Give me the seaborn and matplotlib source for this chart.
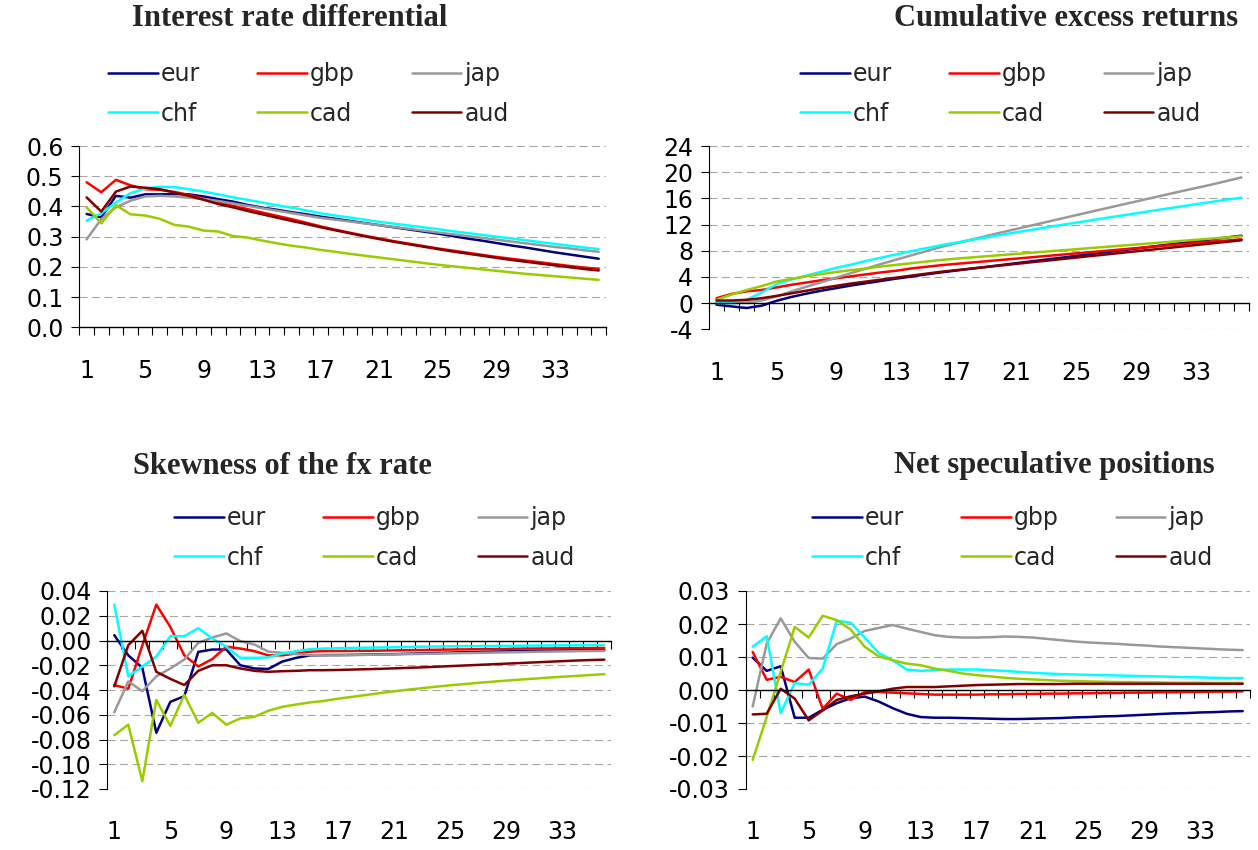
import numpy as np
import pandas as pd
import matplotlib
matplotlib.use("Agg")
import matplotlib.pyplot as plt
from matplotlib.ticker import FixedLocator, FormatStrFormatter
import seaborn as sns

W, H = 1258, 850

periods = list(range(1, 37))
currencies = ["eur", "gbp", "jap", "chf", "cad", "aud"]
colors = {"eur": "#000080", "gbp": "#ff0000", "jap": "#999999",
          "chf": "#00ffff", "cad": "#99cc00", "aud": "#800000"}
xtick_labels = [1, 5, 9, 13, 17, 21, 25, 29, 33]

# Interest rate differential
ird_eur = [0.375, 0.364, 0.435, 0.429, 0.440, 0.440, 0.441, 0.440, 0.433, 0.424, 0.416, 0.405,
           0.396, 0.389, 0.381, 0.374, 0.366, 0.359, 0.352, 0.345, 0.338, 0.331, 0.324, 0.317,
           0.310, 0.302, 0.294, 0.287, 0.279, 0.271, 0.264, 0.256, 0.248, 0.241, 0.234, 0.227]
ird_gbp = [0.480, 0.447, 0.488, 0.470, 0.457, 0.455, 0.448, 0.438, 0.426, 0.414, 0.402, 0.391,
           0.380, 0.369, 0.358, 0.346, 0.334, 0.323, 0.313, 0.303, 0.294, 0.285, 0.277, 0.269,
           0.261, 0.254, 0.247, 0.240, 0.233, 0.227, 0.221, 0.215, 0.209, 0.203, 0.198, 0.193]
ird_jap = [0.291, 0.358, 0.397, 0.419, 0.433, 0.435, 0.433, 0.429, 0.424, 0.418, 0.410, 0.402,
           0.394, 0.386, 0.378, 0.370, 0.362, 0.356, 0.350, 0.344, 0.338, 0.332, 0.326, 0.320,
           0.314, 0.308, 0.302, 0.296, 0.290, 0.284, 0.278, 0.272, 0.266, 0.261, 0.255, 0.250]
ird_chf = [0.353, 0.377, 0.413, 0.444, 0.459, 0.465, 0.464, 0.457, 0.449, 0.440, 0.430, 0.422,
           0.413, 0.404, 0.396, 0.387, 0.377, 0.370, 0.363, 0.356, 0.349, 0.343, 0.337, 0.331,
           0.325, 0.318, 0.312, 0.306, 0.300, 0.294, 0.288, 0.282, 0.276, 0.270, 0.264, 0.259]
ird_cad = [0.397, 0.344, 0.404, 0.374, 0.370, 0.359, 0.339, 0.333, 0.320, 0.317, 0.302, 0.297,
           0.287, 0.278, 0.270, 0.264, 0.256, 0.250, 0.243, 0.237, 0.231, 0.225, 0.219, 0.213,
           0.207, 0.202, 0.197, 0.192, 0.187, 0.182, 0.177, 0.173, 0.169, 0.165, 0.161, 0.157]
ird_aud = [0.430, 0.383, 0.449, 0.466, 0.462, 0.457, 0.446, 0.435, 0.422, 0.408, 0.397, 0.385,
           0.374, 0.363, 0.352, 0.342, 0.331, 0.321, 0.311, 0.301, 0.292, 0.283, 0.275, 0.267,
           0.259, 0.251, 0.244, 0.237, 0.230, 0.223, 0.217, 0.211, 0.205, 0.199, 0.193, 0.188]

# Cumulative excess returns
cer_eur = [-0.25, -0.5, -0.75, -0.4, 0.35, 0.95, 1.45, 1.9, 2.3, 2.7, 3.05, 3.4,
           3.75, 4.05, 4.4, 4.7, 4.98, 5.26, 5.54, 5.82, 6.1, 6.38, 6.66, 6.94,
           7.22, 7.5, 7.78, 8.06, 8.34, 8.62, 8.9, 9.18, 9.46, 9.74, 10.02, 10.3]
cer_gbp = [0.75, 1.4, 1.8, 2.0, 2.4, 2.8, 3.15, 3.5, 3.8, 4.1, 4.4, 4.7,
           4.95, 5.3, 5.55, 5.8, 6.0, 6.2, 6.4, 6.6, 6.8, 7.0, 7.2, 7.4,
           7.6, 7.8, 8.0, 8.2, 8.4, 8.6, 8.8, 9.0, 9.2, 9.4, 9.55, 9.75]
cer_jap = [0.0, 0.0, 0.1, 0.4, 1.0, 1.8, 2.5, 3.2, 3.9, 4.6, 5.3, 6.0,
           6.65, 7.3, 7.95, 8.6, 9.15, 9.7, 10.25, 10.8, 11.33, 11.86, 12.39, 12.92,
           13.45, 13.98, 14.5, 15.02, 15.54, 16.06, 16.58, 17.1, 17.6, 18.1, 18.65, 19.2]
cer_chf = [0.1, 0.2, 0.5, 1.6, 2.9, 3.6, 4.2, 4.8, 5.4, 5.9, 6.45, 6.95,
           7.45, 7.95, 8.4, 8.85, 9.25, 9.65, 10.05, 10.44, 10.82, 11.2, 11.57, 11.94,
           12.3, 12.66, 13.02, 13.38, 13.73, 14.08, 14.43, 14.78, 15.12, 15.46, 15.8, 16.1]
cer_cad = [0.5, 1.3, 2.0, 2.6, 3.3, 3.7, 4.1, 4.45, 4.75, 5.05, 5.3, 5.6,
           5.85, 6.1, 6.35, 6.6, 6.8, 6.98, 7.16, 7.34, 7.52, 7.7, 7.88, 8.06,
           8.24, 8.42, 8.6, 8.78, 8.96, 9.14, 9.32, 9.5, 9.68, 9.86, 10.03, 10.2]
cer_aud = [0.4, 0.4, 0.5, 0.75, 1.1, 1.5, 1.9, 2.3, 2.65, 3.0, 3.3, 3.6,
           3.9, 4.2, 4.5, 4.8, 5.04, 5.28, 5.52, 5.76, 6.0, 6.24, 6.48, 6.72,
           6.96, 7.2, 7.44, 7.68, 7.92, 8.16, 8.4, 8.64, 8.88, 9.12, 9.36, 9.6]

# Skewness of the fx rate
skw_eur = [0.0043, -0.012, -0.022, -0.0746, -0.0496, -0.045, -0.0092, -0.0073, -0.0073, -0.020, -0.0226, -0.023,
           -0.017, -0.014, -0.012, -0.0118, -0.0117, -0.0116, -0.0114, -0.0112, -0.011, -0.0107, -0.0104, -0.0101,
           -0.0098, -0.0095, -0.0092, -0.009, -0.0088, -0.0086, -0.0084, -0.0082, -0.008, -0.0078, -0.0077, -0.0076]
skw_gbp = [-0.036, -0.039, -0.004, 0.029, 0.011, -0.012, -0.021, -0.015, -0.005, -0.0065, -0.0086, -0.012,
           -0.012, -0.0105, -0.009, -0.0086, -0.0085, -0.0084, -0.0083, -0.0082, -0.008, -0.0078, -0.0077, -0.0075,
           -0.0073, -0.0072, -0.007, -0.0069, -0.0068, -0.0066, -0.0065, -0.0064, -0.0063, -0.0062, -0.0061, -0.006]
skw_jap = [-0.058, -0.033, -0.041, -0.029, -0.0226, -0.0154, -0.0019, 0.0024, 0.0057, -0.0005, -0.0032, -0.009,
           -0.010, -0.011, -0.0118, -0.012, -0.012, -0.0118, -0.0116, -0.0114, -0.0112, -0.011, -0.0108, -0.0106,
           -0.0104, -0.0102, -0.010, -0.0098, -0.0096, -0.0094, -0.0092, -0.009, -0.0088, -0.0086, -0.0085, -0.0084]
skw_chf = [0.029, -0.029, -0.021, -0.013, 0.0035, 0.0035, 0.010, 0.0016, -0.005, -0.014, -0.014, -0.0137,
           -0.0105, -0.0086, -0.007, -0.0065, -0.0062, -0.006, -0.0058, -0.0056, -0.0054, -0.0052, -0.005, -0.0049,
           -0.0047, -0.0046, -0.0045, -0.0044, -0.0043, -0.0042, -0.0041, -0.004, -0.0039, -0.0038, -0.0037, -0.0036]
skw_cad = [-0.0765, -0.068, -0.1137, -0.048, -0.069, -0.044, -0.0665, -0.0585, -0.068, -0.063, -0.0617, -0.0568,
           -0.0536, -0.0517, -0.050, -0.0488, -0.047, -0.0455, -0.044, -0.0425, -0.041, -0.0397, -0.0385, -0.0373,
           -0.0362, -0.0352, -0.0342, -0.0333, -0.0324, -0.0316, -0.0308, -0.030, -0.0293, -0.0286, -0.0279, -0.0272]
skw_aud = [-0.037, -0.0038, 0.0078, -0.0253, -0.031, -0.036, -0.0245, -0.020, -0.020, -0.0226, -0.0245, -0.0253,
           -0.0248, -0.0245, -0.024, -0.024, -0.0238, -0.0235, -0.0232, -0.0229, -0.0225, -0.0221, -0.0217, -0.0212,
           -0.0207, -0.0202, -0.0197, -0.0192, -0.0187, -0.0182, -0.0177, -0.0172, -0.0167, -0.0162, -0.0158, -0.0155]

# Net speculative positions
nsp_eur = [0.0098, 0.0058, 0.0072, -0.0084, -0.0084, -0.006, -0.004, -0.0025, -0.002, -0.0035, -0.0055, -0.0072,
           -0.0082, -0.0084, -0.0084, -0.0085, -0.0086, -0.0087, -0.0088, -0.0088, -0.0087, -0.0086, -0.0085, -0.0083,
           -0.0082, -0.008, -0.0079, -0.0077, -0.0075, -0.0073, -0.0071, -0.007, -0.0068, -0.0067, -0.0065, -0.0064]
nsp_gbp = [0.0115, 0.0031, 0.004, 0.0024, 0.0062, -0.0057, -0.0011, -0.003, -0.0006, -0.0006, -0.0008, -0.001,
           -0.0012, -0.0014, -0.0014, -0.0014, -0.0014, -0.0013, -0.0013, -0.0012, -0.0012, -0.0011, -0.0011, -0.001,
           -0.001, -0.0009, -0.0009, -0.0008, -0.0008, -0.0007, -0.0007, -0.0006, -0.0006, -0.0005, -0.0005, -0.0004]
nsp_jap = [-0.005, 0.0141, 0.0217, 0.0146, 0.0097, 0.0095, 0.0139, 0.0156, 0.0179, 0.0188, 0.0197, 0.0186,
           0.0176, 0.0166, 0.0161, 0.0159, 0.0159, 0.016, 0.0162, 0.0161, 0.0159, 0.0155, 0.0151, 0.0147,
           0.0144, 0.0142, 0.014, 0.0137, 0.0135, 0.0132, 0.013, 0.0128, 0.0126, 0.0124, 0.0122, 0.0121]
nsp_chf = [0.0131, 0.0163, -0.007, 0.0021, 0.0016, 0.0065, 0.021, 0.0204, 0.0159, 0.0112, 0.009, 0.0062,
           0.0058, 0.006, 0.0062, 0.0062, 0.0062, 0.006, 0.0058, 0.0055, 0.0052, 0.005, 0.0048, 0.0047,
           0.0046, 0.0045, 0.0044, 0.0043, 0.0042, 0.0041, 0.004, 0.0039, 0.0038, 0.0037, 0.0036, 0.0036]
nsp_cad = [-0.0212, -0.0082, 0.0055, 0.0191, 0.0159, 0.0225, 0.0212, 0.0183, 0.0131, 0.0102, 0.009, 0.008,
           0.0075, 0.0065, 0.0058, 0.005, 0.0045, 0.0041, 0.0037, 0.0034, 0.0032, 0.003, 0.0028, 0.0027,
           0.0026, 0.0025, 0.0024, 0.0024, 0.0023, 0.0023, 0.0022, 0.0022, 0.0022, 0.0021, 0.0021, 0.0021]
nsp_aud = [-0.0074, -0.0072, 0.0004, -0.0026, -0.0092, -0.0062, -0.003, -0.0019, -0.0011, -0.0004, 0.0004, 0.0009,
           0.0009, 0.0009, 0.0011, 0.0013, 0.0015, 0.0016, 0.0017, 0.0018, 0.0018, 0.0018, 0.0018, 0.0019,
           0.0019, 0.0019, 0.0019, 0.0019, 0.0019, 0.0019, 0.0019, 0.0019, 0.0019, 0.0019, 0.0019, 0.0019]


def long_frame(series):
    rows = []
    for cur, vals in zip(currencies, series):
        rows.append(pd.DataFrame({"period": periods, "value": vals, "currency": cur}))
    return pd.concat(rows, ignore_index=True)


sns.set_style("white")
plt.rcParams["font.family"] = ["DejaVu Sans"]
plt.rcParams["axes.unicode_minus"] = False
plt.rcParams["lines.scale_dashes"] = False

LABEL_SIZE = 17
TITLE_FONT = dict(family=["Liberation Serif", "DejaVu Serif"], fontweight="bold", fontsize=22)

fig = plt.figure(figsize=(W / 100, H / 100), dpi=100)


def px_axes(x0, y0, x1, y1):
    return fig.add_axes([x0 / W, 1 - y1 / H, (x1 - x0) / W, (y1 - y0) / H])


panels = [
    dict(title="Interest rate differential",
         series=[ird_eur, ird_gbp, ird_jap, ird_chf, ird_cad, ird_aud],
         box=(79.3, 146, 606, 327.3), ylim=(0.0, 0.6), yticks=np.round(np.arange(0, 0.61, 0.1), 2),
         fmt="%.1f", title_xy=(290, 19), legend_xy=(108, 94)),
    dict(title="Cumulative excess returns",
         series=[cer_eur, cer_gbp, cer_jap, cer_chf, cer_cad, cer_aud],
         box=(709, 146, 1249, 329.3), ylim=(-4, 24), yticks=np.arange(-4, 25, 4),
         fmt="%d", title_xy=(1066, 19), legend_xy=(800, 94)),
    dict(title="Skewness of the fx rate",
         series=[skw_eur, skw_gbp, skw_jap, skw_chf, skw_cad, skw_aud],
         box=(107.3, 591, 611.3, 789), ylim=(-0.12, 0.04), yticks=np.round(np.arange(-0.12, 0.041, 0.02), 2),
         fmt="%.2f", title_xy=(282, 466), legend_xy=(174, 538)),
    dict(title="Net speculative positions",
         series=[nsp_eur, nsp_gbp, nsp_jap, nsp_chf, nsp_cad, nsp_aud],
         box=(745.7, 591, 1249.7, 789), ylim=(-0.03, 0.03), yticks=np.round(np.arange(-0.03, 0.031, 0.01), 2),
         fmt="%.2f", title_xy=(1054, 466), legend_xy=(812, 538)),
]

legend_order = [0, 3, 1, 4, 2, 5]

for p in panels:
    ax = px_axes(*p["box"])
    df = long_frame(p["series"])
    sns.lineplot(data=df, x="period", y="value", hue="currency", hue_order=currencies,
                 palette=colors, linewidth=1.8, errorbar=None, legend=False, ax=ax)
    ax.set_xlabel("")
    ax.set_ylabel("")
    ax.set_xlim(0.5, 36.5)
    ax.set_ylim(*p["ylim"])

    # value axis
    ax.yaxis.set_major_locator(FixedLocator(p["yticks"]))
    ax.yaxis.set_major_formatter(FormatStrFormatter(p["fmt"]))
    ax.tick_params(axis="y", direction="out", length=5.8, width=0.8, pad=5.5,
                   labelsize=LABEL_SIZE, colors="black", left=True)
    ax.grid(axis="y", color="#a6a6a6", linestyle=(0, (5.8, 3.2)), linewidth=0.8)
    ax.grid(axis="x", visible=False)
    ax.set_axisbelow(True)

    for side in ("top", "right"):
        ax.spines[side].set_visible(False)
    ax.spines["left"].set_color("black")
    ax.spines["left"].set_linewidth(0.8)
    ax.spines["bottom"].set_position(("data", 0))
    ax.spines["bottom"].set_color("black")
    ax.spines["bottom"].set_linewidth(1.0)

    # category axis: boundary ticks on the zero line, labels below the plot
    ax.xaxis.set_major_locator(FixedLocator(np.arange(0.5, 37, 1.0)))
    ax.set_xticklabels([])
    ax.tick_params(axis="x", direction="out", length=5.8, width=0.8, colors="black", bottom=True)
    sec = ax.secondary_xaxis(0)
    sec.set_xticks(xtick_labels, labels=[str(v) for v in xtick_labels])
    sec.tick_params(length=0, pad=22.5, labelsize=LABEL_SIZE, colors="black")
    sec.spines["bottom"].set_visible(False)

    lines = ax.get_lines()[:6]
    lx, ly = p["legend_xy"]
    ax.legend([lines[i] for i in legend_order], [currencies[i] for i in legend_order],
              ncol=3, loc="center left", bbox_to_anchor=(lx / W, 1 - ly / H),
              bbox_transform=fig.transFigure, frameon=False, fontsize=LABEL_SIZE,
              handlelength=2.1, handletextpad=0.15, columnspacing=2.4,
              labelspacing=0.65, borderpad=0, borderaxespad=0)

    tx, ty = p["title_xy"]
    fig.text(tx / W, 1 - ty / H, p["title"], ha="center", va="center", **TITLE_FONT)

fig.savefig("out.png", dpi=100, facecolor="white")
